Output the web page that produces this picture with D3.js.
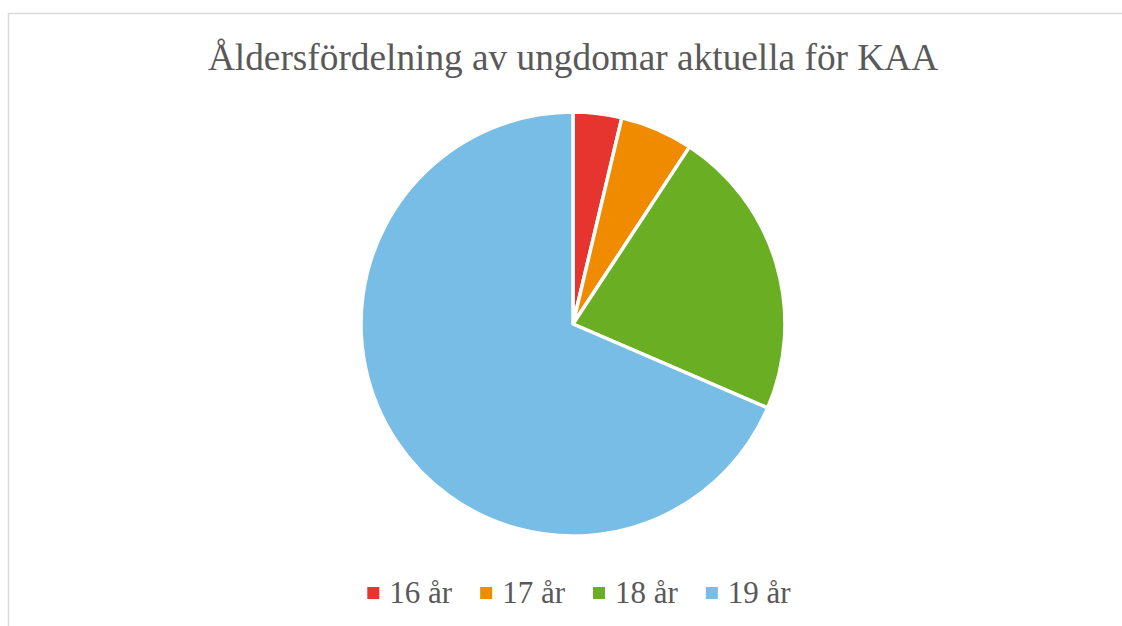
<!DOCTYPE html>
<html>
<head>
<meta charset="utf-8">
<script src="https://cdn.jsdelivr.net/npm/d3@7"></script>
<style>
  body { margin: 0; background: #fff; }
  svg { display: block; }
  text { font-family: "Liberation Serif", "Times New Roman", Times, serif; }
</style>
</head>
<body>
<div id="chart"></div>
<script>
const title = "Åldersfördelning av ungdomar aktuella för KAA";
const categories = ["16 år", "17 år", "18 år", "19 år"];
const values = [2, 3, 12, 37];
const colors = ["#e6352e", "#f08b00", "#69ae23", "#77bde5"];

const width = 1122, height = 626;
const cx = 573, cy = 324, radius = 212;

const svg = d3.select("#chart")
    .append("svg")
    .attr("width", width)
    .attr("height", height);

// chart frame (only top and left edges visible in the crop)
svg.append("rect")
    .attr("x", 8.5)
    .attr("y", 13.5)
    .attr("width", width + 20)
    .attr("height", height + 20)
    .attr("fill", "#fff")
    .attr("stroke", "#d9d9d9")
    .attr("stroke-width", 1.5);

svg.append("text")
    .attr("x", cx)
    .attr("y", 70)
    .attr("text-anchor", "middle")
    .attr("font-size", 37.3)
    .attr("fill", "#595959")
    .text(title);

const data = categories.map((c, i) => ({ name: c, value: values[i] }));
const color = d3.scaleOrdinal().domain(categories).range(colors);

const pie = d3.pie().sort(null).value(d => d.value);
const arc = d3.arc().innerRadius(0).outerRadius(radius);

svg.append("g")
    .attr("transform", `translate(${cx},${cy})`)
    .selectAll("path")
    .data(pie(data))
    .enter()
    .append("path")
    .attr("d", arc)
    .attr("fill", d => color(d.data.name))
    .attr("stroke", "#fff")
    .attr("stroke-width", 3.5)
    .attr("stroke-linejoin", "round");

// legend
const legend = svg.append("g");
const fontSize = 31, box = 12, gap = 10, itemGap = 28;
const items = legend.selectAll("g")
    .data(categories)
    .enter()
    .append("g");

items.append("text")
    .attr("x", box + gap)
    .attr("y", 603)
    .attr("font-size", fontSize)
    .attr("fill", "#595959")
    .text(d => d);

let x = 0;
const offsets = [];
items.each(function () {
    const w = this.querySelector("text").getComputedTextLength();
    offsets.push(x);
    x += box + gap + w + itemGap;
});
const total = x - itemGap;
const startX = 579 - total / 2;
items.attr("transform", (d, i) => `translate(${startX + offsets[i]},0)`);

items.append("rect")
    .attr("x", 0)
    .attr("y", 587)
    .attr("width", box)
    .attr("height", box)
    .attr("fill", d => color(d));
</script>
</body>
</html>
